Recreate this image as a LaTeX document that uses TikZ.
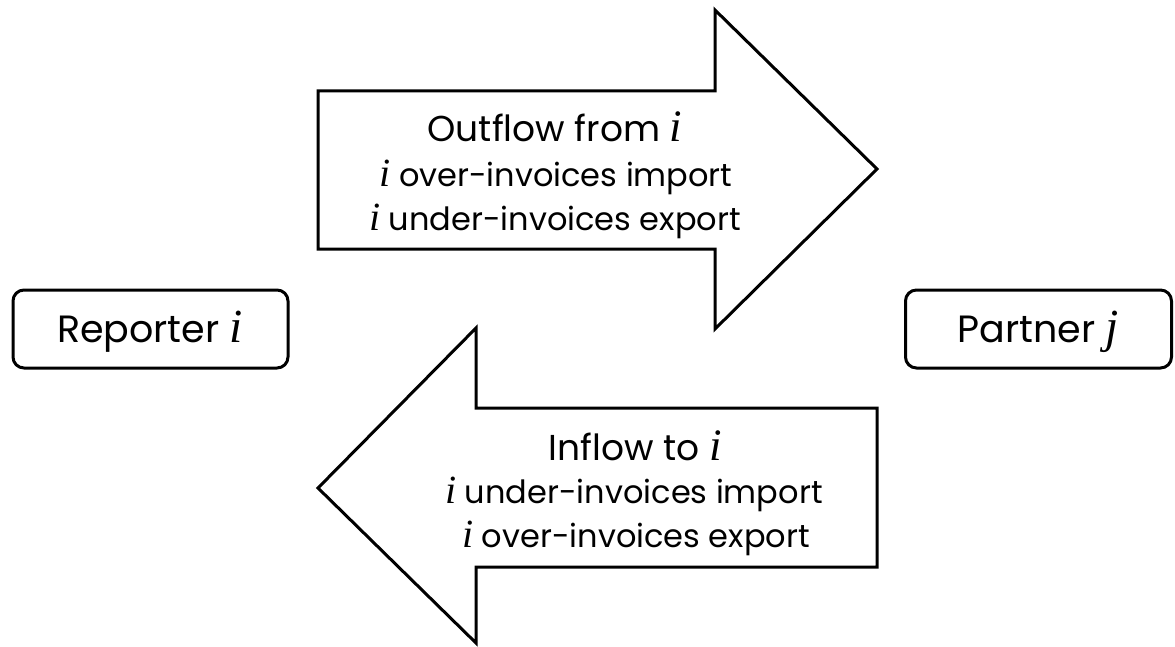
\documentclass[tikz,border=0pt]{standalone}
\usepackage{fontspec}
\setmainfont{Poppins}
\newfontfamily\varfont{Liberation Serif}
\newcommand{\vv}[1]{{\varfont\itshape\fontsize{1.25em}{1em}\selectfont #1}}
\begin{document}
\begin{tikzpicture}[x=1pt,y=-1pt,
  outline/.style={draw=black,line width=3pt,line join=miter,fill=white},
  entity/.style={draw=black,line width=3pt,rounded corners=11pt,fill=white,minimum height=78pt,inner sep=0pt},
  bigtxt/.style={font=\fontsize{36}{42}\selectfont,inner sep=0pt,anchor=base},
  smalltxt/.style={font=\fontsize{32}{38}\selectfont,inner sep=0pt,anchor=base},
  enttxt/.style={font=\fontsize{38}{44}\selectfont,inner sep=0pt,anchor=base}]
\useasboundingbox (0,0) rectangle (1175,647);
% outflow arrow (right)
\draw[outline] (318,91) -- (715,91) -- (715,10) -- (877,169) -- (715,329) -- (715,249) -- (318,249) -- cycle;
% inflow arrow (left)
\draw[outline] (877,408) -- (476,408) -- (476,328) -- (318,488) -- (476,643) -- (476,567) -- (877,567) -- cycle;
% entities
\node[entity,minimum width=275pt] (rep) at (150.5,329) {};
\node[entity,minimum width=266pt] (par) at (1038.5,329) {};
\node[enttxt] (reptxt) at (150,342) {Reporter \vv{i}};
\node[enttxt] (partxt) at (1038,342) {Partner \vv{j}};
% outflow text
\node[bigtxt] (o1) at (555,142) {Outflow from \vv{i}};
\node[smalltxt] (o2) at (556,187) {\vv{i} over-invoices import};
\node[smalltxt] (o3) at (555,230) {\vv{i} under-invoices export};
% inflow text
\node[bigtxt] (n1) at (635,460) {Inflow to \vv{i}};
\node[smalltxt] (n2) at (634,503) {\vv{i} under-invoices import};
\node[smalltxt] (n3) at (636,547) {\vv{i} over-invoices export};
\end{tikzpicture}
\end{document}
